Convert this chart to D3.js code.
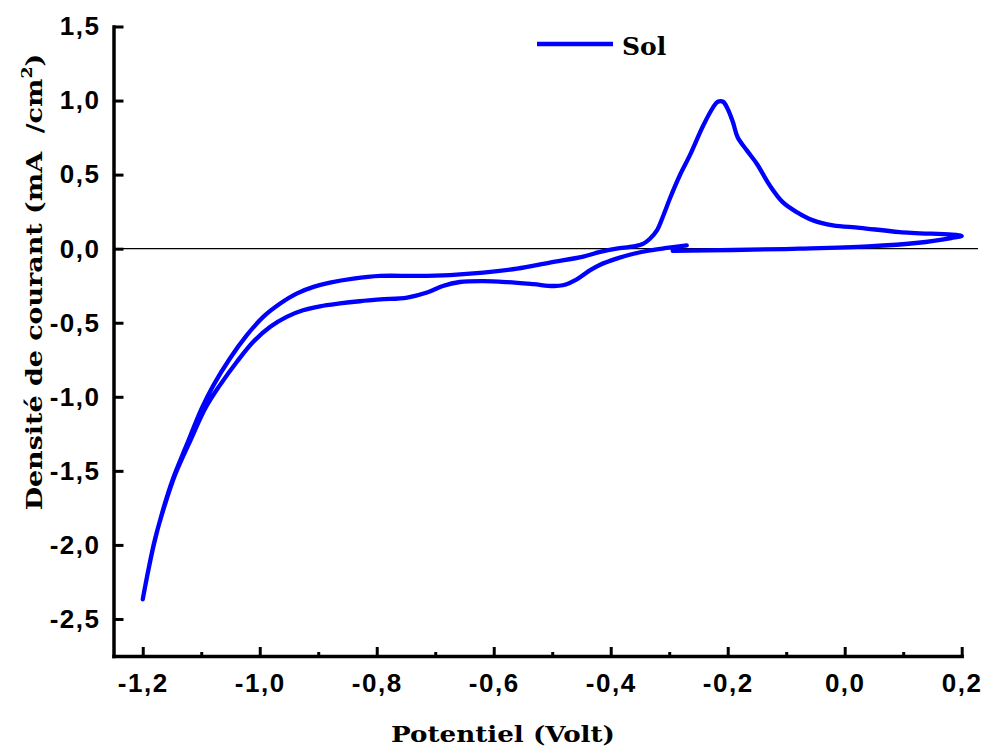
<!DOCTYPE html>
<html>
<head>
<meta charset="utf-8">
<script src="https://cdn.jsdelivr.net/npm/d3@7"></script>
<style>
  body { margin: 0; background: #fff; }
</style>
</head>
<body>
<div id="chart"></div>
<script>
// one voltammetry cycle, in drawing order (V, mA/cm2)
var sweepPotential = [
  -0.294, -0.191, -0.077, 0.040, 0.126, 0.182, 0.200,
  0.094, 0.026, -0.020, -0.054, -0.082, -0.106, -0.128, -0.150, -0.167, -0.183,
  -0.191, -0.200, -0.208, -0.217, -0.225, -0.242, -0.265, -0.282,
  -0.299, -0.310, -0.321, -0.333, -0.344, -0.361, -0.390, -0.418,
  -0.447, -0.504, -0.560, -0.618, -0.675, -0.731, -0.794, -0.840, -0.880, -0.908,
  -0.937, -0.965, -0.994, -1.022, -1.051, -1.079, -1.099, -1.125, -1.148, -1.166,
  -1.181, -1.193, -1.200,
  -1.191, -1.179, -1.163, -1.144, -1.118, -1.093, -1.068, -1.039, -1.011, -0.982,
  -0.954, -0.926, -0.897, -0.863, -0.829, -0.794, -0.748, -0.714, -0.687, -0.658,
  -0.618, -0.577, -0.532, -0.499, -0.482, -0.458, -0.435,
  -0.418, -0.390, -0.361, -0.333, -0.304, -0.270
];
var sweepCurrent = [
  -0.015, -0.009, 0.000, 0.015, 0.040, 0.072, 0.086,
  0.112, 0.141, 0.157, 0.191, 0.247, 0.314, 0.426, 0.572, 0.662, 0.752,
  0.853, 0.943, 0.992, 0.992, 0.954, 0.830, 0.628, 0.494,
  0.337, 0.224, 0.123, 0.067, 0.034, 0.015, 0.000, -0.022,
  -0.054, -0.094, -0.135, -0.162, -0.178, -0.184, -0.184, -0.202, -0.229, -0.258,
  -0.303, -0.370, -0.460, -0.584, -0.741, -0.921, -1.077, -1.325, -1.549, -1.771,
  -1.998, -2.222, -2.368,
  -2.180, -1.960, -1.740, -1.520, -1.290, -1.077, -0.921, -0.763, -0.628, -0.527,
  -0.460, -0.416, -0.389, -0.370, -0.355, -0.343, -0.330, -0.296, -0.252, -0.225,
  -0.219, -0.226, -0.240, -0.252, -0.247, -0.207, -0.145,
  -0.108, -0.067, -0.034, -0.011, 0.005, 0.022
];

var xTicks = [-1.2, -1.0, -0.8, -0.6, -0.4, -0.2, 0.0, 0.2];
var xMinorTicks = [-1.1, -0.9, -0.7, -0.5, -0.3, -0.1, 0.1];
var yTicks = [-2.5, -2.0, -1.5, -1.0, -0.5, 0.0, 0.5, 1.0, 1.5];
var seriesName = "Sol";

var svgWidth = 983;
var svgHeight = 751;

var svg = d3.select("#chart")
  .append("svg")
  .attr("width", svgWidth)
  .attr("height", svgHeight);

var x = d3.scaleLinear().domain([-1.25, 0.2]).range([113.5, 961.7]);
var y = d3.scaleLinear().domain([-2.75, 1.5]).range([656, 26.5]);

var fr = d3.formatLocale({ decimal: ",", thousands: ".", grouping: [3], currency: ["", ""], minus: "-" });
var fmt = fr.format(".1f");

var points = sweepPotential.map(function (v, i) { return [v, sweepCurrent[i]]; });

// zero line
svg.append("line")
  .attr("x1", x(-1.25)).attr("x2", 978)
  .attr("y1", y(0)).attr("y2", y(0))
  .attr("stroke", "#000")
  .attr("stroke-width", 1.3);

var line = d3.line()
  .x(function (d) { return x(d[0]); })
  .y(function (d) { return y(d[1]); })
  .curve(d3.curveCatmullRom.alpha(0.5));

svg.append("path")
  .datum(points)
  .attr("d", line)
  .attr("fill", "none")
  .attr("stroke", "#0000ff")
  .attr("stroke-width", 4.3)
  .attr("stroke-linejoin", "round")
  .attr("stroke-linecap", "round");

// axes
var xAxis = svg.append("g")
  .attr("transform", "translate(0," + y(-2.75) + ")")
  .call(d3.axisBottom(x).tickValues(xTicks).tickFormat(fmt).tickSizeInner(-9).tickSizeOuter(0).tickPadding(18));

var xMinor = svg.append("g")
  .attr("transform", "translate(0," + y(-2.75) + ")")
  .call(d3.axisBottom(x).tickValues(xMinorTicks).tickFormat("").tickSizeInner(-4).tickSizeOuter(0));
xMinor.select(".domain").remove();

var yAxis = svg.append("g")
  .attr("transform", "translate(" + x(-1.25) + ",0)")
  .call(d3.axisLeft(y).tickValues(yTicks).tickFormat(fmt).tickSizeInner(-10).tickSizeOuter(0).tickPadding(13));

svg.selectAll(".domain").attr("stroke-width", 3.5).attr("stroke-linecap", "square");
svg.selectAll(".tick line").attr("stroke-width", 3);

svg.selectAll(".tick text")
  .attr("font-family", "'Liberation Sans', Arial, sans-serif")
  .attr("font-weight", "bold")
  .attr("font-size", "26px")
  .attr("letter-spacing", "1.5px")
  .attr("fill", "#000");

// axis titles
svg.append("text")
  .attr("x", 503)
  .attr("y", 742)
  .attr("text-anchor", "middle")
  .attr("font-family", "'DejaVu Serif', serif")
  .attr("font-weight", "bold")
  .attr("font-size", "23px")
  .attr("textLength", 224)
  .attr("lengthAdjust", "spacingAndGlyphs")
  .text("Potentiel (Volt)");

var yTitle = svg.append("text")
  .attr("transform", "translate(42,282) rotate(-90) scale(1.17,1)")
  .attr("text-anchor", "middle")
  .attr("font-family", "'DejaVu Serif', serif")
  .attr("font-weight", "bold")
  .attr("font-size", "23px");
yTitle.append("tspan").text("Densité de courant (mA  /cm");
yTitle.append("tspan").attr("font-size", "15px").attr("dy", -10).text("2");
yTitle.append("tspan").attr("dy", 10).text(")");
yTitle.attr("xml:space", "preserve").style("white-space", "pre");

// legend
var legend = svg.append("g");
legend.append("line")
  .attr("x1", 537).attr("x2", 613)
  .attr("y1", 44).attr("y2", 44)
  .attr("stroke", "#0000ff")
  .attr("stroke-width", 4.3);
legend.append("text")
  .attr("x", 622)
  .attr("y", 55)
  .attr("font-family", "'DejaVu Serif', serif")
  .attr("font-weight", "bold")
  .attr("font-size", "25px")
  .text(seriesName);
</script>
</body>
</html>
